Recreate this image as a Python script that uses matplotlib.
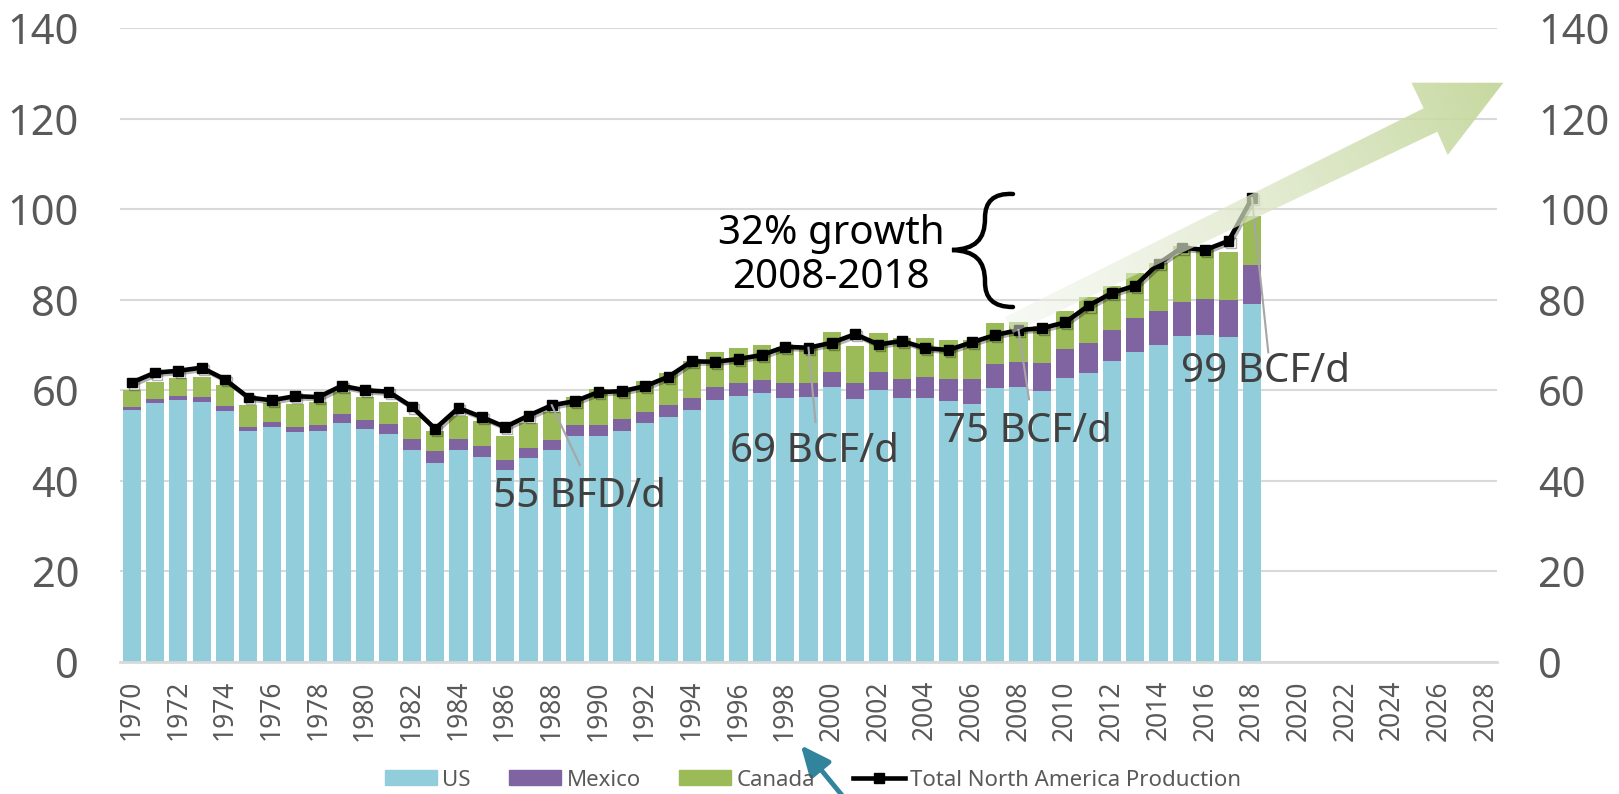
import matplotlib
matplotlib.use("Agg")
import matplotlib.pyplot as plt
import matplotlib.patheffects as pe
import numpy as np
from matplotlib.lines import Line2D
from matplotlib.patches import Patch, Polygon, PathPatch
from matplotlib.path import Path

plt.rcParams["font.family"] = ["Noto Sans", "DejaVu Sans"]

# North American gas production, BCF/d
YEARS = list(range(1970, 2019))
US = [55.6, 57.3, 57.8, 57.5, 55.5, 50.9, 51.8, 50.8, 51.0, 52.7,
      51.4, 50.4, 46.8, 43.9, 46.8, 45.2, 42.4, 45.0, 46.9, 50.0,
      50.0, 51.1, 52.7, 54.2, 55.6, 57.9, 58.7, 59.3, 58.3, 58.5,
      60.7, 58.1, 60.0, 58.4, 58.4, 57.6, 56.9, 60.4, 60.7, 59.9,
      62.8, 63.9, 66.4, 68.5, 70.0, 71.9, 72.2, 71.7, 79.0]
MEXICO = [0.8, 0.8, 0.9, 1.0, 1.1, 1.1, 1.1, 1.2, 1.4, 2.0,
          2.1, 2.1, 2.4, 2.6, 2.4, 2.4, 2.2, 2.3, 2.2, 2.4,
          2.4, 2.6, 2.6, 2.6, 2.7, 2.8, 2.9, 2.9, 3.2, 3.1,
          3.4, 3.4, 4.1, 4.0, 4.6, 5.0, 5.5, 5.5, 5.6, 6.2,
          6.3, 6.6, 7.0, 7.4, 7.6, 7.7, 8.0, 8.2, 8.6]
CANADA = [3.6, 3.7, 4.1, 4.5, 4.5, 4.7, 4.3, 4.9, 5.0, 4.9,
          5.0, 4.9, 5.0, 4.6, 5.2, 5.7, 5.2, 5.4, 6.1, 6.1,
          7.8, 6.3, 6.7, 7.1, 8.1, 7.7, 7.8, 7.9, 8.1, 8.0,
          8.7, 8.3, 8.5, 9.2, 8.5, 8.5, 8.7, 8.9, 8.7, 8.0,
          8.5, 10.2, 9.6, 10.0, 10.5, 12.3, 11.3, 10.6, 10.9]
TOTAL = [61.7, 63.9, 64.3, 65.0, 62.4, 58.4, 57.8, 58.7, 58.5, 61.0,
         60.0, 59.7, 56.4, 51.5, 56.1, 54.1, 51.9, 54.4, 56.7, 57.6,
         59.6, 59.8, 60.9, 63.0, 66.4, 66.3, 66.9, 67.8, 69.6, 69.4,
         70.5, 72.4, 70.1, 70.9, 69.3, 68.9, 70.6, 72.2, 73.3, 73.7,
         75.0, 78.7, 81.5, 83.1, 88.0, 91.5, 91.0, 93.0, 102.4]

TICK_YEARS = list(range(1970, 2029, 2))
Y_TICKS = [0, 20, 40, 60, 80, 100, 120, 140]

# callouts: (label, year, text x, text y, leader end x, leader end y)
CALLOUTS = [
    ("55 BFD/d", 1988, 1989.2, 36.4, 1989.2, 43.5),
    ("69 BCF/d", 1999, 1999.25, 46.4, 1999.3, 53.0),
    ("75 BCF/d", 2008, 2008.4, 50.8, 2008.45, 58.0),
    ("99 BCF/d", 2018, 2018.6, 64.0, 2018.7, 68.4),
]

C_US = "#92CDDC"
C_MX = "#8064A2"
C_CA = "#9BBB59"
GRID = "#D9D9D9"
TXT = "#595959"

W, H = 1619, 794
fig = plt.figure(figsize=(W / 100, H / 100), dpi=100)
ax = fig.add_axes([120 / W, 132 / H, (1497 - 120) / W, 634 / H])

years = np.array(YEARS)
us = np.array(US)
mx = np.array(MEXICO)
ca = np.array(CANADA)

ax.bar(years, us, width=0.78, color=C_US, zorder=2)
ax.bar(years, mx, width=0.78, bottom=us, color=C_MX, zorder=2)
ax.bar(years, ca, width=0.78, bottom=us + mx, color=C_CA, zorder=2)
ax.plot(years, TOTAL, color="black", lw=3.3, marker="s", ms=7, zorder=3,
        path_effects=[pe.SimpleLineShadow(offset=(1.5, -1.5), alpha=0.3), pe.Normal()])

for label, yr, tx, ty, lx, ly in CALLOUTS:
    y0 = TOTAL[YEARS.index(yr)]
    ax.plot([yr, lx], [y0, ly], color="#A6A6A6", lw=1.5, zorder=4)
    ax.text(tx, ty, label, fontsize=29, color="#404040", ha="center", va="center", zorder=5)

ax.set_xlim(1969.5, 2028.5)
ax.set_ylim(0, 140)
ax.set_xticks(TICK_YEARS)
ax.set_xticklabels([str(y) for y in TICK_YEARS], rotation=90)
ax.set_yticks(Y_TICKS)
ax.yaxis.grid(True, color=GRID, lw=1.5)
ax.set_axisbelow(True)
for s in ["top", "left", "right"]:
    ax.spines[s].set_visible(False)
ax.spines["bottom"].set_color(GRID)
ax.spines["bottom"].set_linewidth(2)
ax.tick_params(axis="y", length=0, pad=29.5, labelsize=30, labelcolor=TXT)
ax.tick_params(axis="x", length=0, pad=13, labelsize=19, labelcolor=TXT)

ax2 = ax.twinx()
ax2.set_ylim(0, 140)
ax2.set_yticks(Y_TICKS)
for s in ax2.spines.values():
    s.set_visible(False)
ax2.tick_params(axis="y", length=0, pad=29.5, labelsize=30, labelcolor=TXT)

handles = [
    Patch(color=C_US),
    Patch(color=C_MX),
    Patch(color=C_CA),
    Line2D([], [], color="black", lw=3.3, marker="s", ms=7),
]
labels = ["US", "Mexico", "Canada", "Total North America Production"]
fig.legend(handles, labels, loc="center", bbox_to_anchor=(813 / W, 14 / H), ncol=4,
           frameon=False, fontsize=16, handlelength=2.35, handleheight=0.63,
           handletextpad=0.25, columnspacing=1.7, labelcolor=TXT, borderaxespad=0)

# overlay in pixel coordinates for the drawn shapes
ov = fig.add_axes([0, 0, 1, 1], zorder=5)
ov.set_facecolor("none")
ov.axis("off")

arrow_pts = [(1005, 317), (1423.6, 108.3), (1411.5, 82.7), (1503.4, 82.7),
             (1447.7, 155), (1437.3, 131.7), (1013, 333)]
clip = Polygon(arrow_pts, closed=True, facecolor="none", edgecolor="none", transform=ov.transData)
ov.add_patch(clip)
gx = np.linspace(1000, 1510, 255)
gy = np.linspace(78, 338, 130)
XX, YY = np.meshgrid(gx, gy)
tail = np.array([1009.0, 325.0])
tip = np.array([1503.4, 82.7])
d = tip - tail
t = ((XX - tail[0]) * d[0] + (YY - tail[1]) * d[1]) / (d @ d)
t = np.clip(t, 0, 1)
c0 = np.array([240, 243, 234]) / 255
c1 = np.array([196, 215, 155]) / 255
rgba = np.zeros(t.shape + (4,))
for k in range(3):
    rgba[..., k] = c0[k] + (c1[k] - c0[k]) * t
rgba[..., 3] = 0.5 + 0.45 * t
im = ov.imshow(rgba, extent=(1000, 1510, 338, 78), origin="upper", aspect="auto",
               interpolation="bilinear")
im.set_clip_path(clip)

# brace
verts = [(1013, 194), (993, 193), (985, 202), (985, 218),
         (985, 240), (975, 249), (952, 250),
         (975, 251), (985, 260), (985, 282),
         (985, 298), (993, 307), (1013, 307)]
codes = [Path.MOVETO] + [Path.CURVE4] * 12
ov.add_patch(PathPatch(Path(verts, codes), facecolor="none", edgecolor="black", lw=3.2,
                       capstyle="round"))
ov.text(831, 256, "32% growth\n2008-2018", fontsize=29, color="black", ha="center",
        va="center", linespacing=1.15)

ov.annotate("", xy=(799, 743), xytext=(850, 805),
            arrowprops=dict(arrowstyle="-|>,head_length=0.9,head_width=0.4",
                            mutation_scale=20, color="#31849B", lw=3.5))

ov.set_xlim(0, W)
ov.set_ylim(H, 0)

fig.savefig("out.png", dpi=100)
